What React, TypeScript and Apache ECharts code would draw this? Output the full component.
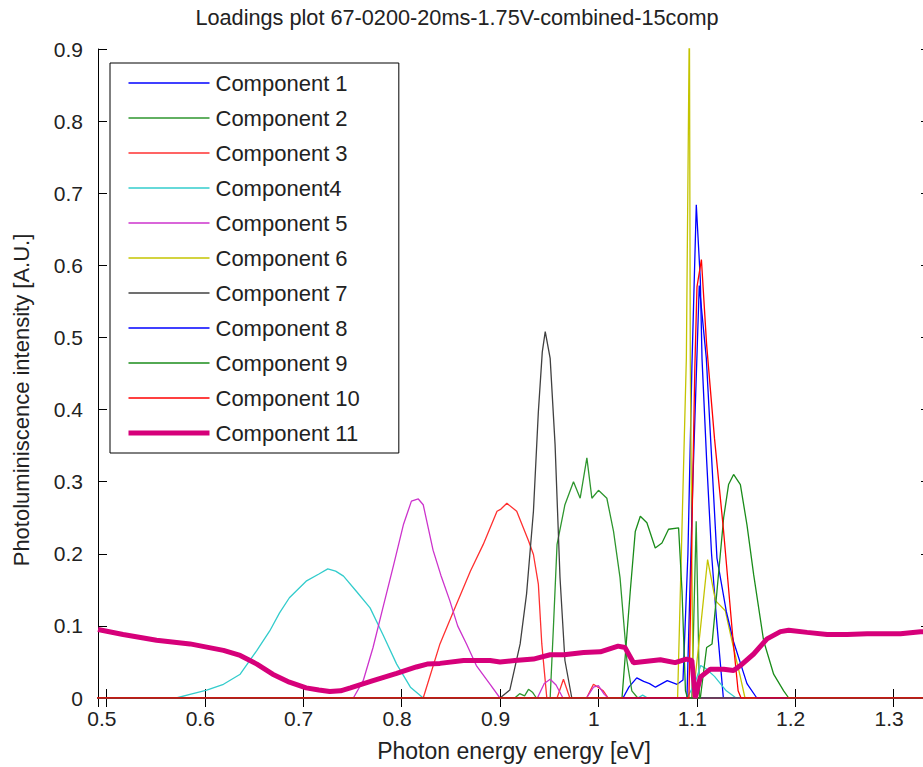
import React, { useEffect, useRef } from "react";
import * as echarts from "echarts";

const TITLE = "Loadings plot 67-0200-20ms-1.75V-combined-15comp";
const X_NAME = "Photon energy energy [eV]";
const Y_NAME = "Photoluminiscence intensity [A.U.]";
const X_MIN = 0.4915;
const X_MAX = 1.337;
const Y_TICKS = [0, 0.1, 0.2, 0.3, 0.4, 0.5, 0.6, 0.7, 0.8, 0.9];

const names = [
  "Component 1", "Component 2", "Component 3", "Component4", "Component 5", "Component 6",
  "Component 7", "Component 8", "Component 9", "Component 10", "Component 11",
];
const colors = [
  "#0000ff", "#2e962e", "#ff3030", "#33cccc", "#cc33cc", "#c4c400",
  "#404040", "#0000ff", "#1a8c1a", "#ff0000", "#d6007a",
];

const comp1 = [[0.49,0],[1.025,0],[1.031,0.015],[1.039,0.028],[1.046,0.023],[1.052,0.02],[1.058,0.015],[1.07,0.024],[1.08,0.019],[1.086,0.025],[1.091,0.2],[1.095,0.457],[1.0995,0.684],[1.1036,0.58],[1.1053,0.471],[1.11,0.33],[1.115,0.2],[1.12,0.11],[1.127,0],[1.34,0]];
const comp2 = [[0.49,0],[0.915,0],[0.92,0.006],[0.925,0.003],[0.929,0.012],[0.933,0.008],[0.937,0],[0.951,0],[0.9543,0.098],[0.958,0.213],[0.966,0.268],[0.9747,0.3],[0.9815,0.277],[0.9883,0.333],[0.9934,0.277],[1.0001,0.288],[1.0086,0.277],[1.0154,0.231],[1.022,0.167],[1.029,0.052],[1.034,0.01],[1.04,0],[1.095,0],[1.0994,0.245],[1.1028,0],[1.34,0]];
const comp3 = [[0.49,0],[0.822,0],[0.839,0.075],[0.853,0.121],[0.87,0.176],[0.883,0.213],[0.897,0.259],[0.901,0.262],[0.907,0.27],[0.917,0.259],[0.929,0.218],[0.934,0.199],[0.939,0.158],[0.9425,0.075],[0.9476,0],[0.958,0],[0.9645,0.026],[0.971,0],[0.988,0],[0.995,0.019],[1.005,0.01],[1.01,0],[1.34,0]];
const comp4 = [[0.49,0],[0.571,0],[0.585,0.005],[0.602,0.011],[0.619,0.019],[0.636,0.033],[0.653,0.066],[0.666,0.093],[0.676,0.118],[0.686,0.139],[0.703,0.162],[0.716,0.172],[0.725,0.179],[0.733,0.176],[0.741,0.169],[0.754,0.148],[0.768,0.125],[0.781,0.088],[0.795,0.047],[0.809,0.015],[0.822,0],[1.04,0],[1.045,0.004],[1.05,0],[1.09,0],[1.098,0.02],[1.104,0.045],[1.11,0.04],[1.118,0.03],[1.13,0.01],[1.14,0],[1.34,0]];
const comp5 = [[0.49,0],[0.751,0],[0.761,0.024],[0.771,0.07],[0.781,0.125],[0.792,0.185],[0.802,0.241],[0.81,0.273],[0.817,0.276],[0.822,0.268],[0.832,0.205],[0.84,0.17],[0.849,0.135],[0.857,0.1],[0.866,0.075],[0.876,0.045],[0.89,0.019],[0.9,0],[0.938,0],[0.945,0.02],[0.951,0.026],[0.957,0.018],[0.964,0],[0.988,0],[0.995,0.015],[1.0,0.017],[1.006,0.005],[1.01,0],[1.34,0]];
const comp6 = [[0.49,0],[1.0805,0],[1.0894,0.471],[1.0925,0.95],[1.0934,0.471],[1.0962,0],[1.0967,0],[1.104,0.1],[1.111,0.192],[1.119,0.135],[1.129,0.121],[1.1358,0.079],[1.1443,0.029],[1.149,0],[1.34,0]];
const comp7 = [[0.49,0],[0.9,0],[0.91,0.011],[0.9205,0.075],[0.927,0.144],[0.934,0.259],[0.939,0.397],[0.943,0.48],[0.946,0.508],[0.951,0.471],[0.956,0.351],[0.961,0.167],[0.966,0.052],[0.973,0],[1.34,0]];
const comp8 = [[0.49,0],[1.09,0],[1.096,0.3],[1.1025,0.572],[1.1097,0.471],[1.1205,0.194],[1.13,0.12],[1.1374,0.078],[1.151,0.02],[1.161,0],[1.34,0]];
const comp9 = [[0.49,0],[1.024,0],[1.0324,0.148],[1.0375,0.231],[1.0426,0.252],[1.0493,0.243],[1.0578,0.208],[1.0646,0.215],[1.0713,0.234],[1.0815,0.236],[1.085,0.148],[1.0885,0.01],[1.0906,0],[1.1036,0],[1.11,0.07],[1.1155,0.075],[1.1205,0.148],[1.1273,0.25],[1.1323,0.296],[1.1374,0.31],[1.1443,0.296],[1.151,0.24],[1.1578,0.171],[1.168,0.079],[1.1781,0.033],[1.1883,0.01],[1.1934,0],[1.34,0]];
const comp10 = [[0.49,0],[1.092,0],[1.098,0.457],[1.1002,0.57],[1.1047,0.608],[1.11,0.49],[1.118,0.36],[1.127,0.235],[1.137,0.078],[1.142,0.01],[1.145,0],[1.34,0]];
const comp11 = [[0.4915,0.095],[0.517,0.088],[0.551,0.08],[0.585,0.075],[0.619,0.066],[0.636,0.059],[0.653,0.047],[0.669,0.033],[0.686,0.022],[0.703,0.014],[0.716,0.011],[0.727,0.009],[0.738,0.01],[0.748,0.014],[0.771,0.024],[0.795,0.034],[0.815,0.043],[0.826,0.047],[0.839,0.048],[0.863,0.052],[0.89,0.052],[0.9,0.05],[0.915,0.052],[0.934,0.054],[0.951,0.06],[0.965,0.06],[0.985,0.063],[1.002,0.064],[1.02,0.072],[1.027,0.07],[1.0357,0.049],[1.0493,0.051],[1.063,0.053],[1.078,0.049],[1.0893,0.054],[1.095,0.052],[1.0985,0],[1.1036,0.029],[1.1138,0.04],[1.1273,0.04],[1.1374,0.038],[1.1443,0.045],[1.1578,0.061],[1.1714,0.082],[1.185,0.092],[1.1934,0.094],[1.2121,0.091],[1.2325,0.088],[1.2528,0.088],[1.2731,0.089],[1.307,0.089],[1.3274,0.092],[1.337,0.091]];

const seriesData = [comp1, comp2, comp3, comp4, comp5, comp6, comp7, comp8, comp9, comp10, comp11];

const FONT = "'Liberation Sans', Arial, Helvetica, sans-serif";

export default function App() {
  const ref = useRef<HTMLDivElement>(null);
  useEffect(() => {
    if (!ref.current) return;
    const chart = echarts.init(ref.current, null, { renderer: "svg" });
    const axisLine = { show: true, lineStyle: { color: "#000", width: 1 } };
    chart.setOption({
      animation: false,
      backgroundColor: "#fff",
      textStyle: { fontFamily: FONT },
      title: {
        text: TITLE,
        left: 457,
        top: 6,
        padding: 0,
        textAlign: "center",
        textStyle: { fontFamily: FONT, fontSize: 21.7, fontWeight: "normal", color: "#222" },
      },
      legend: {
        data: names,
        orient: "vertical",
        left: 110,
        top: 63,
        padding: [9, 39, 9, 16],
        itemWidth: 81,
        itemHeight: 14,
        itemGap: 13,
        backgroundColor: "#fff",
        borderColor: "#000",
        borderWidth: 1,
        borderRadius: 0,
        itemStyle: { opacity: 0 },
        lineStyle: { width: "inherit" },
        textStyle: { fontFamily: FONT, fontSize: 22, color: "#222", padding: [0, 0, 0, 1] },
      },
      grid: { left: 98, top: 49, width: 832, height: 652, containLabel: false },
      graphic: [
        {
          type: "text",
          x: 21,
          y: 400,
          rotation: Math.PI / 2,
          style: {
            text: Y_NAME,
            fontFamily: FONT,
            fontSize: 22,
            fill: "#222",
            textAlign: "center",
            textVerticalAlign: "middle",
          },
        },
      ],
      xAxis: [
        {
          type: "value",
          min: X_MIN,
          max: X_MAX,
          minInterval: 0.1,
          maxInterval: 0.1,
          position: "bottom",
          name: X_NAME,
          nameLocation: "middle",
          nameGap: 41,
          nameTextStyle: { fontFamily: FONT, fontSize: 23, color: "#222" },
          axisLine,
          axisTick: { show: true, inside: true, length: 9, lineStyle: { color: "#000" } },
          axisLabel: {
            show: true,
            showMinLabel: false,
            showMaxLabel: false,
            margin: 10,
            fontFamily: FONT,
            fontSize: 21,
            color: "#222",
            padding: [0, 9, 0, 0],
          },
          splitLine: { show: false },
        },
        {
          type: "value",
          min: X_MIN,
          max: X_MAX,
          minInterval: 0.1,
          maxInterval: 0.1,
          position: "top",
          axisLine,
          axisTick: { show: true, inside: true, length: 9, lineStyle: { color: "#000" } },
          axisLabel: { show: false },
          splitLine: { show: false },
        },
      ],
      yAxis: [
        {
          type: "value",
          min: Y_TICKS[0],
          max: Y_TICKS[Y_TICKS.length - 1],
          interval: 0.1,
          position: "left",
          axisLine,
          axisTick: { show: true, inside: true, length: 9, lineStyle: { color: "#000" } },
          axisLabel: { show: true, margin: 15, fontFamily: FONT, fontSize: 21, color: "#222" },
          splitLine: { show: false },
        },
        {
          type: "value",
          min: Y_TICKS[0],
          max: Y_TICKS[Y_TICKS.length - 1],
          interval: 0.1,
          position: "right",
          axisLine,
          axisTick: { show: true, inside: true, length: 9, lineStyle: { color: "#000" } },
          axisLabel: { show: false },
          splitLine: { show: false },
        },
      ],
      series: seriesData.map((d, i) => ({
        type: "line",
        name: names[i],
        data: d,
        xAxisIndex: 0,
        yAxisIndex: 0,
        symbol: "none",
        showSymbol: false,
        clip: true,
        color: colors[i],
        lineStyle: { color: colors[i], width: i === 10 ? 5 : 1.3 },
        emphasis: { disabled: true },
        z: 2 + i,
      })),
    });
    return () => chart.dispose();
  }, []);
  return (
    <div style={{ position: "fixed", left: 0, top: 0, width: 923, height: 767, overflow: "hidden", background: "#fff" }}>
      <div ref={ref} style={{ width: 940, height: 767 }} />
    </div>
  );
}
